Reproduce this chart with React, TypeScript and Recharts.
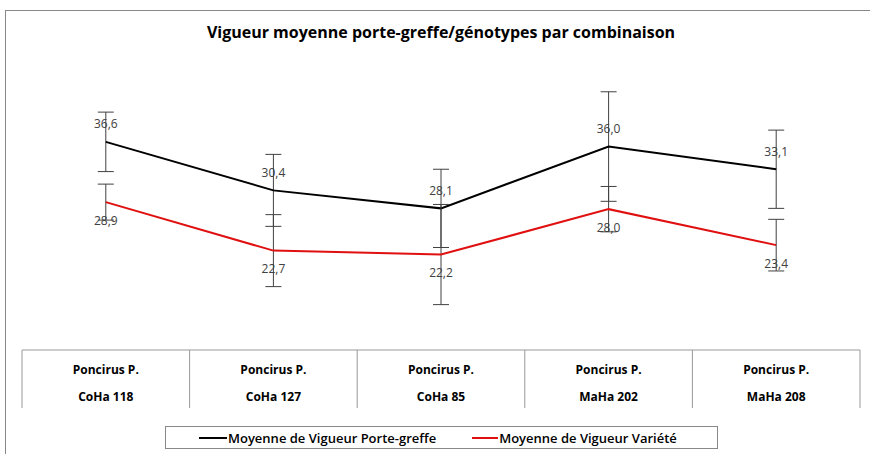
import { LineChart, Line, XAxis, YAxis, ErrorBar, LabelList } from 'recharts';

const groups = ['Poncirus P.', 'Poncirus P.', 'Poncirus P.', 'Poncirus P.', 'Poncirus P.'];
const genotypes = ['CoHa 118', 'CoHa 127', 'CoHa 85', 'MaHa 202', 'MaHa 208'];
const porteGreffe = [36.6, 30.4, 28.1, 36.0, 33.1];
const variete = [28.9, 22.7, 22.2, 28.0, 23.4];
const errPorteGreffe = [3.8, 4.6, 5.0, 7.0, 5.0];
const errVariete = [2.3, 4.6, 6.4, 2.9, 3.3];

const data = genotypes.map((g, i) => ({
  name: g,
  group: groups[i],
  pg: porteGreffe[i],
  va: variete[i],
  pgErr: errPorteGreffe[i],
  vaErr: errVariete[i],
}));

const FONT = "'Open Sans', 'Noto Sans', sans-serif";
const PLOT_LEFT = 22;
const PLOT_RIGHT = 860;
const COL_W = (PLOT_RIGHT - PLOT_LEFT) / genotypes.length;

const fmt = (v: any) => Number(v).toFixed(1).replace('.', ',');

const CategoryTick = (props: any) => {
  const { x, y, index, payload } = props;
  const half = COL_W / 2;
  return (
    <g>
      <line x1={x - half} y1={y} x2={x - half} y2={y + 58} stroke="#999" />
      {index === genotypes.length - 1 && (
        <line x1={x + half} y1={y} x2={x + half} y2={y + 58} stroke="#999" />
      )}
      <text x={x} y={y + 19} textAnchor="middle" dominantBaseline="central"
        fontFamily={FONT} fontSize={12} fontWeight="bold" fill="#000">
        {groups[index]}
      </text>
      <text x={x} y={y + 46} textAnchor="middle" dominantBaseline="central"
        fontFamily={FONT} fontSize={12} fontWeight="bold" fill="#000">
        {payload.value}
      </text>
    </g>
  );
};

const makeLabel = (dy: number) => (props: any) => {
  const { x, y, value } = props;
  return (
    <text x={x} y={y + dy} textAnchor="middle" dominantBaseline="central"
      fontFamily={FONT} fontSize={12} fill="#404040">
      {fmt(value)}
    </text>
  );
};

export default function App() {
  return (
    <div style={{ position: 'absolute', left: 0, top: 0, width: 870, height: 454, overflow: 'hidden', background: '#fff' }}>
      <div style={{ position: 'absolute', left: 5, top: 10, width: 900, height: 500, border: '1px solid #888' }} />
      <div style={{ position: 'absolute', left: 0, top: 21, width: 882, textAlign: 'center',
        fontFamily: FONT, fontSize: 16, fontWeight: 'bold', color: '#000' }}>
        Vigueur moyenne porte-greffe/génotypes par combinaison
      </div>
      <div style={{ position: 'absolute', left: 0, top: 0 }}>
        <LineChart width={870} height={454} data={data}
          margin={{ top: 37, right: 870 - PLOT_RIGHT, left: PLOT_LEFT, bottom: 44 }}>
          <XAxis dataKey="name" height={60} tickLine={false} tickSize={0} tickMargin={0}
            padding={{ left: COL_W / 2, right: COL_W / 2 }}
            axisLine={{ stroke: '#999' }} interval={0} tick={<CategoryTick />} />
          <YAxis hide domain={[10, 50]} />
          <Line type="linear" dataKey="pg" stroke="#000" strokeWidth={2} dot={false} isAnimationActive={false}>
            <ErrorBar dataKey="pgErr" width={8} stroke="#404040" strokeWidth={1} direction="y" />
            <LabelList dataKey="pg" content={makeLabel(-18)} />
          </Line>
          <Line type="linear" dataKey="va" stroke="#e01010" strokeWidth={2} dot={false} isAnimationActive={false}>
            <ErrorBar dataKey="vaErr" width={8} stroke="#404040" strokeWidth={1} direction="y" />
            <LabelList dataKey="va" content={makeLabel(18)} />
          </Line>
        </LineChart>
      </div>
      <div style={{ position: 'absolute', left: 165, top: 426, width: 553, height: 23, border: '1px solid #888',
        boxSizing: 'border-box', display: 'flex', alignItems: 'center', fontFamily: FONT, fontSize: 13,
        fontWeight: 600, color: '#000' }}>
        <span style={{ display: 'inline-block', width: 28, height: 2, background: '#000', marginLeft: 33 }} />
        <span style={{ marginLeft: 1 }}>Moyenne de Vigueur Porte-greffe</span>
        <span style={{ display: 'inline-block', width: 26, height: 2, background: '#e01010', marginLeft: 36 }} />
        <span style={{ marginLeft: 1 }}>Moyenne de Vigueur Variété</span>
      </div>
    </div>
  );
}
